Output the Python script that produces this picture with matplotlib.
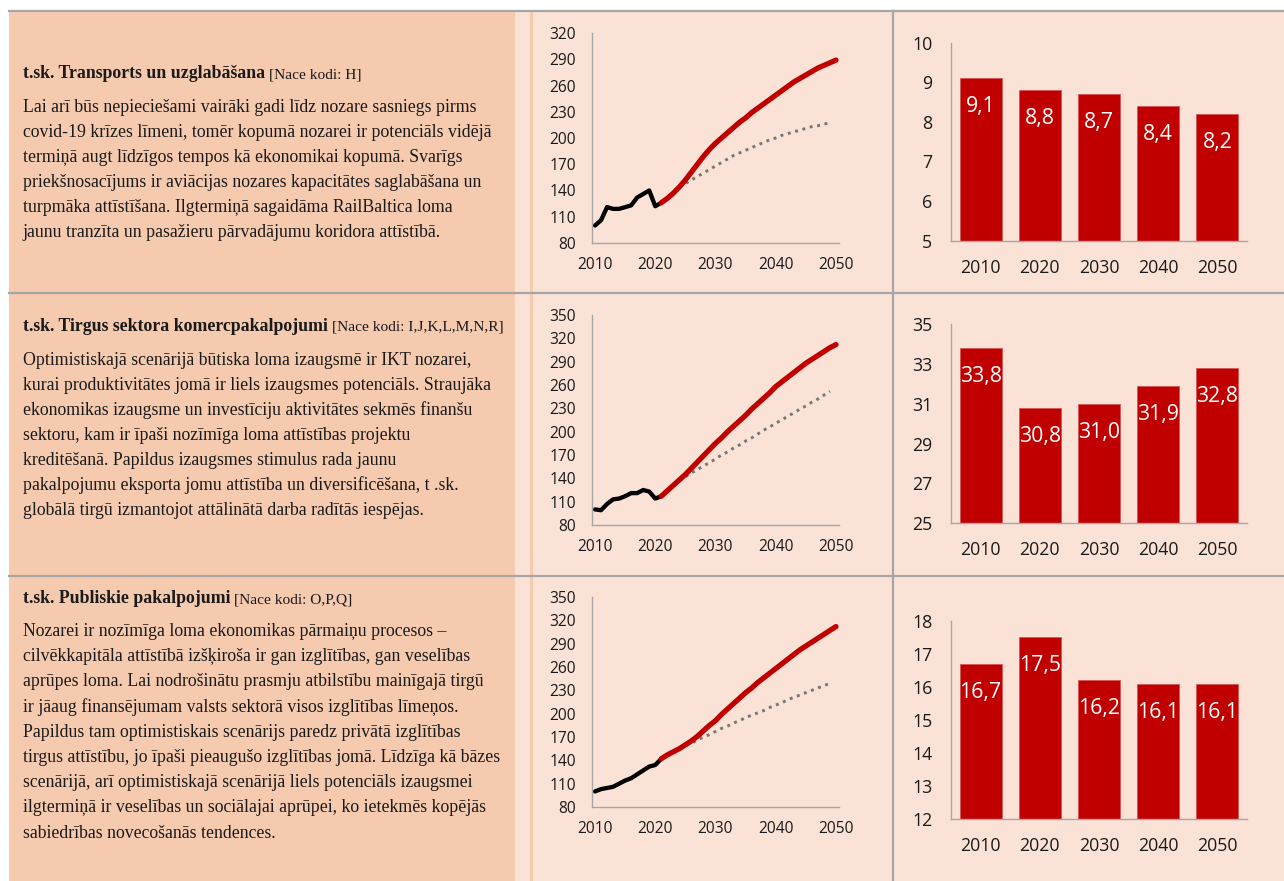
import matplotlib
matplotlib.use('Agg')
import matplotlib.pyplot as plt
from matplotlib.patches import Rectangle
from matplotlib.lines import Line2D

plt.rcParams['font.family'] = ['Open Sans', 'DejaVu Sans']

W, H = 1284, 881
DARK = '#F6CAAE'
LIGHT = '#FBE2D6'
GRID = '#A6A6A6'
RED = '#C00000'
TXT = '#1A1A1A'

# ---------------- data ----------------
years_hist = list(range(2010, 2022))
years_opt = list(range(2021, 2051))
years_base = list(range(2024, 2050))
line_ticks = [2010, 2020, 2030, 2040, 2050]
bar_years = ['2010', '2020', '2030', '2040', '2050']

transport_hist = [100, 106, 121, 119, 119, 121, 123, 132, 136, 140, 122, 126]
transport_opt = [126, 131, 137, 144, 152, 161, 170, 179, 187, 194,
                 200, 206, 212, 218, 223, 229, 234, 239, 244, 249,
                 254, 259, 264, 268, 272, 276, 280, 283, 286, 289]
transport_base = [144, 148, 152, 156, 160, 164, 168, 172, 176, 180,
                  183, 186, 189, 192, 195, 198, 200, 203, 205, 207,
                  209, 211, 213, 214, 216, 217]
transport_share = [9.1, 8.8, 8.7, 8.4, 8.2]

market_hist = [100, 99, 107, 113, 114, 117, 121, 121, 125, 123, 114, 117]
market_opt = [117, 124, 131, 138, 145, 153, 161, 169, 177, 185,
              192, 200, 207, 214, 221, 229, 236, 243, 250, 258,
              264, 270, 276, 282, 288, 293, 298, 303, 308, 312]
market_base = [137, 142, 147, 151, 156, 160, 165, 170, 174, 179,
               183, 188, 192, 197, 202, 206, 211, 215, 220, 224,
               229, 233, 238, 242, 247, 252]
market_share = [33.8, 30.8, 31.0, 31.9, 32.8]

public_hist = [100, 103, 104.5, 106, 110, 114, 117, 122, 127, 132, 134, 142]
public_opt = [142, 147, 151, 155, 160, 165, 171, 178, 185, 191,
              199, 206, 213, 220, 227, 233, 240, 246, 252, 258,
              264, 270, 276, 282, 287, 292, 297, 302, 307, 312]
public_base = [155, 159, 162, 166, 170, 173, 177, 181, 184, 188,
               191, 195, 198, 201, 204, 208, 211, 214, 218, 221,
               224, 227, 230, 233, 236, 239]
public_share = [16.7, 17.5, 16.2, 16.1, 16.1]

titles_bold = ['t.sk. Transports un uzglabāšana',
               't.sk. Tirgus sektora komercpakalpojumi',
               't.sk. Publiskie pakalpojumi']
titles_codes = ['[Nace kodi: H]',
                '[Nace kodi: I,J,K,L,M,N,R]',
                '[Nace kodi: O,P,Q]']
bodies = [
    ['Lai arī būs nepieciešami vairāki gadi līdz nozare sasniegs pirms',
     'covid-19 krīzes līmeni, tomēr kopumā nozarei ir potenciāls vidējā',
     'termiņā augt līdzīgos tempos kā ekonomikai kopumā. Svarīgs',
     'priekšnosacījums ir aviācijas nozares kapacitātes saglabāšana un',
     'turpmāka attīstīšana. Ilgtermiņā sagaidāma RailBaltica loma',
     'jaunu tranzīta un pasažieru pārvadājumu koridora attīstībā.'],
    ['Optimistiskajā scenārijā būtiska loma izaugsmē ir IKT nozarei,',
     'kurai produktivitātes jomā ir liels izaugsmes potenciāls. Straujāka',
     'ekonomikas izaugsme un investīciju aktivitātes sekmēs finanšu',
     'sektoru, kam ir īpaši nozīmīga loma attīstības projektu',
     'kreditēšanā. Papildus izaugsmes stimulus rada jaunu',
     'pakalpojumu eksporta jomu attīstība un diversificēšana, t .sk.',
     'globālā tirgū izmantojot attālinātā darba radītās iespējas.'],
    ['Nozarei ir nozīmīga loma ekonomikas pārmaiņu procesos –',
     'cilvēkkapitāla attīstībā izšķiroša ir gan izglītības, gan veselības',
     'aprūpes loma. Lai nodrošinātu prasmju atbilstību mainīgajā tirgū',
     'ir jāaug finansējumam valsts sektorā visos izglītības līmeņos.',
     'Papildus tam optimistiskais scenārijs paredz privātā izglītības',
     'tirgus attīstību, jo īpaši pieaugušo izglītības jomā. Līdzīga kā bāzes',
     'scenārijā, arī optimistiskajā scenārijā liels potenciāls izaugsmei',
     'ilgtermiņā ir veselības un sociālajai aprūpei, ko ietekmēs kopējās',
     'sabiedrības novecošanās tendences.'],
]

# ---------------- figure ----------------
fig = plt.figure(figsize=(W / 100, H / 100), dpi=100)
fig.patch.set_facecolor('white')


def rect(x0, y0, x1, y1, color):
    fig.patches.append(Rectangle((x0 / W, 1 - y1 / H), (x1 - x0) / W, (y1 - y0) / H,
                                 transform=fig.transFigure, facecolor=color,
                                 edgecolor='none', zorder=-2))


rect(9, 11, 1284, 881, LIGHT)
rect(9, 11, 515, 881, DARK)
rect(530, 11, 533, 881, DARK)

for yy in [11, 292.5, 575.5]:
    fig.add_artist(Line2D([9 / W, 1], [1 - yy / H] * 2, color=GRID, lw=1.6, zorder=-1))
fig.add_artist(Line2D([893 / W] * 2, [1 - 11 / H, 0], color=GRID, lw=1.6, zorder=-1))


def ax_px(x0, y0, x1, y1):
    ax = fig.add_axes([x0 / W, 1 - y1 / H, (x1 - x0) / W, (y1 - y0) / H])
    ax.set_zorder(2)
    ax.set_facecolor('none')
    for s in ['top', 'right']:
        ax.spines[s].set_visible(False)
    for s in ['left', 'bottom']:
        ax.spines[s].set_color(GRID)
        ax.spines[s].set_linewidth(1.0)
    ax.tick_params(length=0, colors=TXT)
    return ax


def line_chart(box, hist, opt, base, ylim):
    ax = ax_px(*box)
    ax.plot(years_base, base, color='#767676', lw=2.1, ls=(0, (1, 1.6)))
    ax.plot(years_hist, hist, color='black', lw=3.1, solid_joinstyle='round',
            solid_capstyle='round')
    ax.plot(years_opt, opt, color=RED, lw=3.8, solid_joinstyle='round',
            solid_capstyle='round')
    ax.set_xlim(2009.5, 2050.5)
    ax.set_ylim(*ylim)
    ax.set_yticks(list(range(ylim[0], ylim[1] + 1, 30)))
    ax.set_xticks(line_ticks)
    ax.tick_params(axis='y', pad=11.5, labelsize=11.2)
    ax.tick_params(axis='x', pad=10, labelsize=11.2)
    return ax


def bar_chart(box, vals, ylim):
    ax = ax_px(*box)
    xs = list(range(len(bar_years)))
    ax.bar(xs, vals, width=0.71, color=RED, edgecolor='#D85555', linewidth=0.6)
    ax.set_xlim(-0.5, len(bar_years) - 0.5)
    ax.set_ylim(*ylim)
    ax.set_xticks(xs, bar_years)
    ax.tick_params(axis='y', pad=13.5, labelsize=12.8)
    ax.tick_params(axis='x', pad=13, labelsize=12.8)
    for xi, v in zip(xs, vals):
        ax.annotate(f'{v:.1f}'.replace('.', ','), (xi, v), xytext=(0, -20.5),
                    textcoords='offset points', ha='center', va='center',
                    color='white', fontsize=15.3)
    return ax


line_chart((592, 33, 839, 243), transport_hist, transport_opt, transport_base, (80, 320))
line_chart((592, 315, 839, 525), market_hist, market_opt, market_base, (80, 350))
line_chart((592, 597, 839, 807), public_hist, public_opt, public_base, (80, 350))

a = bar_chart((951, 42.7, 1247, 240.7), transport_share, (5, 10))
a.set_yticks([5, 6, 7, 8, 9, 10])
a = bar_chart((951, 324.3, 1247, 523.3), market_share, (25, 35))
a.set_yticks([25, 27, 29, 31, 33, 35])
a = bar_chart((951, 620.7, 1247, 819.3), public_share, (12, 18))
a.set_yticks([12, 13, 14, 15, 16, 17, 18])

# ---------------- text panels ----------------
renderer = fig.canvas.get_renderer()
SERIF = ['Liberation Serif', 'DejaVu Serif']


def width_px(s, **kw):
    t = fig.text(0, 0, s, family=SERIF, **kw)
    w = t.get_window_extent(renderer).width
    t.remove()
    return w


body_size = 12 * 477 / width_px(bodies[2][5], fontsize=12)
bold_size = 12 * 240 / width_px(titles_bold[0], fontsize=12, fontweight='bold')
code_size = 12 * 92 / width_px(titles_codes[0], fontsize=12)

X0 = 22.7
title_base = [78.3, 330.7, 603.3]
body_base = [111.7, 365.0, 636.0]
body_step = [25.0, 25.0, 25.2]

for i in range(3):
    tb = fig.text(X0 / W, 1 - title_base[i] / H, titles_bold[i], family=SERIF,
                  fontsize=bold_size, fontweight='bold', color=TXT, va='baseline')
    x1 = tb.get_window_extent(renderer).x1
    fig.text((x1 + 4) / W, 1 - title_base[i] / H, titles_codes[i], family=SERIF,
             fontsize=code_size, color=TXT, va='baseline')
    for k, line in enumerate(bodies[i]):
        y = body_base[i] + k * body_step[i]
        fig.text(X0 / W, 1 - y / H, line, family=SERIF, fontsize=body_size,
                 color=TXT, va='baseline')

fig.savefig('out.png', dpi=100)
